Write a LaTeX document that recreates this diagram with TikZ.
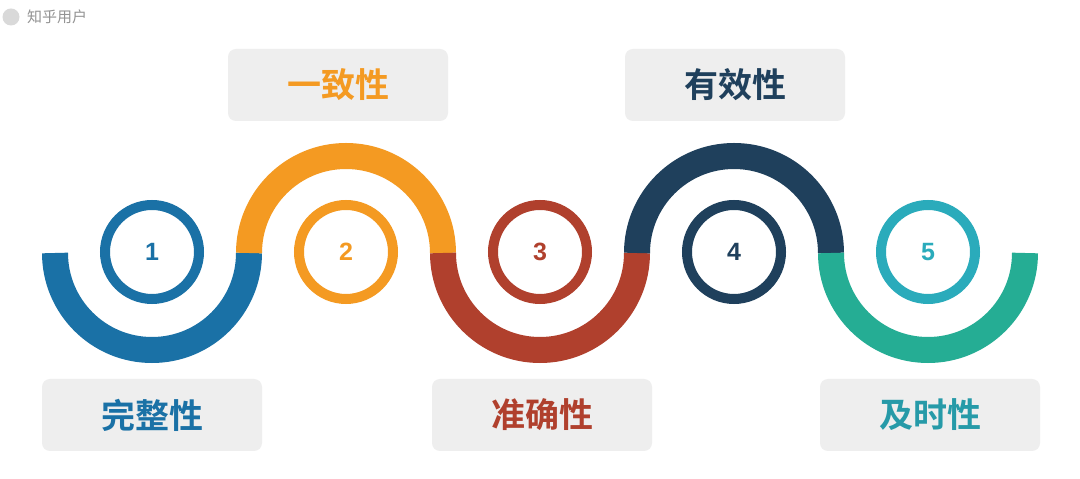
\documentclass[tikz,border=0pt]{standalone}
\usepackage{fontspec}
\newfontfamily\cjk{Noto Sans CJK SC}
\newfontfamily\cjkbold{Noto Sans CJK SC Bold}
\newfontfamily\digits{Liberation Sans}
\usepackage{xcolor}

\definecolor{stepblue}{HTML}{1A71A6}
\definecolor{steporange}{HTML}{F49A22}
\definecolor{stepred}{HTML}{B0402D}
\definecolor{stepnavy}{HTML}{1F405C}
\definecolor{stepgreen}{HTML}{25AD94}
\definecolor{stepcyan}{HTML}{2AABBB}
\definecolor{tagfill}{HTML}{EEEEEE}

\begin{document}
\begin{tikzpicture}[
    x=1pt, y=1pt,
    band/.style={line width=26pt},
    ring/.style={draw, circle, line width=10pt, minimum size=94pt, inner sep=0pt, font=\digits\bfseries\fontsize{25}{25}\selectfont},
    tag/.style={fill=tagfill, rounded corners=8pt, minimum width=220pt, minimum height=72pt, font=\cjkbold\fontsize{34}{34}\selectfont}
]
\useasboundingbox[fill=white] (0,0) rectangle (1080,479);

% Watermark
\node[circle, fill=gray!30, minimum size=17pt, inner sep=0pt] (logo) at (11,462) {};
\node[anchor=west, inner sep=0pt, text=gray!85, font=\cjk\fontsize{15}{15}\selectfont] (user) at (27,462) {知乎用户};

% Wave
\draw[band, stepblue] (55,226) arc[start angle=180, end angle=360, radius=97];
\draw[band, steporange] (249,226) arc[start angle=180, end angle=0, radius=97];
\draw[band, stepred] (443,226) arc[start angle=180, end angle=360, radius=97];
\draw[band, stepnavy] (637,226) arc[start angle=180, end angle=0, radius=97];
\draw[band, stepgreen] (831,226) arc[start angle=180, end angle=360, radius=97];

% Nodes
\node[ring, draw=stepblue, text=stepblue] (n1) at (152,227) {1};
\node[ring, draw=steporange, text=steporange] (n2) at (346,227) {2};
\node[ring, draw=stepred, text=stepred] (n3) at (540,227) {3};
\node[ring, draw=stepnavy, text=stepnavy] (n4) at (734,227) {4};
\node[ring, draw=stepcyan, text=stepcyan] (n5) at (928,227) {5};

\node[tag, text=stepblue] (complete) at (152,64) {完整性};
\node[tag, text=steporange] (consistent) at (338,394) {一致性};
\node[tag, text=stepred] (accurate) at (542,64) {准确性};
\node[tag, text=stepnavy] (valid) at (735,394) {有效性};
\node[tag, text=stepcyan!90!black] (timely) at (930,64) {及时性};
\end{tikzpicture}
\end{document}
